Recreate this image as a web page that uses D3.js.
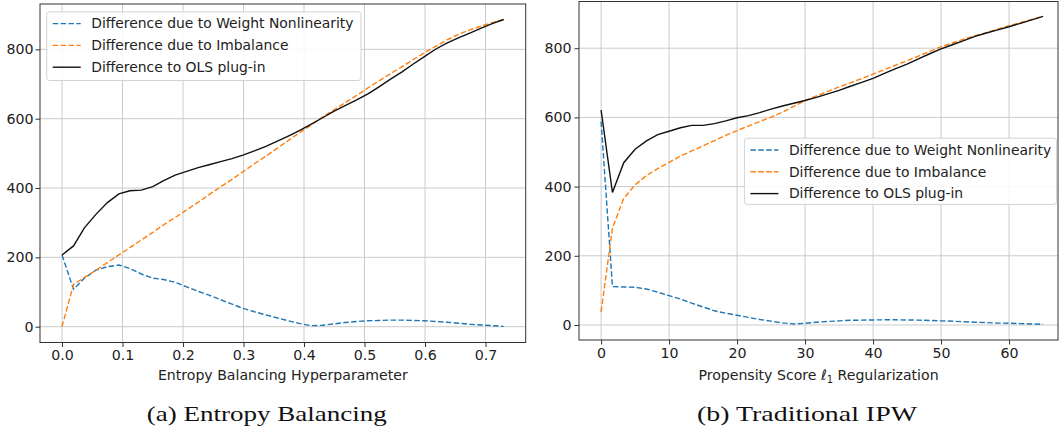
<!DOCTYPE html>
<html lang="en">
<head>
<meta charset="UTF-8">
<title>Entropy balancing vs traditional IPW</title>
<script src="https://cdn.jsdelivr.net/npm/d3@7"></script>
<style>
    body{ margin:0; background:#fff; }
    svg{ display:block; }
    text{ font-family:"DejaVu Sans", sans-serif; fill:#222; }
    .tick text{ font-size:14.2px; }
    .tick line{ stroke:#333; }
    .domain{ display:none; }
    .grid line{ stroke:#cbcbcb; stroke-width:1; }
    .frame{ fill:none; stroke:#333; stroke-width:1; }
    .xlabel{ font-size:14.1px; }
    .caption{ font-family:"Liberation Serif", serif; font-size:22px; fill:#111; }
    .legendBox{ fill:#fff; fill-opacity:0.85; stroke:#d3d3d3; }
    .legend text{ font-size:13.9px; }
</style>
</head>
<body>
<svg id="main" width="1061" height="429"></svg>
<script>
// (a) entropy balancing
const ebX = [0, 0.019, 0.037, 0.056, 0.075, 0.094, 0.112, 0.131, 0.150, 0.168,
    0.187, 0.206, 0.225, 0.243, 0.262, 0.281, 0.299, 0.318, 0.337, 0.356,
    0.374, 0.393, 0.412, 0.430, 0.449, 0.468, 0.487, 0.505, 0.524, 0.543,
    0.562, 0.580, 0.599, 0.618, 0.636, 0.655, 0.674, 0.693, 0.711, 0.730];
const ebWeight = [207, 108, 140, 163, 173, 178, 168, 152, 140, 136,
    128, 115, 102, 91, 78, 65, 53, 43, 34, 25,
    17, 9, 3, 4, 8, 12, 15, 17, 18, 19,
    19, 18, 17, 15, 13, 10, 7, 5, 3, 1];
const ebImbalance = [0, 122, 142, 163, 185, 207, 228, 250, 272, 294,
    315, 337, 359, 381, 403, 425, 447, 470, 492, 515,
    537, 560, 582, 604, 625, 646, 667, 688, 709, 730,
    750, 770, 790, 809, 827, 843, 856, 867, 877, 886];
const ebOls = [207, 233, 285, 324, 358, 383, 392, 394, 404, 421,
    437, 448, 459, 467, 476, 485, 495, 507, 520, 535,
    550, 566, 584, 602, 621, 638, 654, 671, 692, 714,
    735, 757, 779, 801, 818, 833, 847, 861, 874, 886];

// (b) traditional IPW
const ipwX = [0, 1.67, 3.33, 5, 6.67, 8.33, 10, 11.67, 13.33, 15,
    16.67, 18.33, 20, 21.67, 23.33, 25, 26.67, 28.33, 30, 31.67,
    33.33, 35, 36.67, 38.33, 40, 41.67, 43.33, 45, 46.67, 48.33,
    50, 51.67, 53.33, 55, 56.67, 58.33, 60, 61.67, 63.33, 65];
const ipwWeight = [588, 111, 110, 109, 104, 95, 85, 75, 63, 52,
    41, 34, 28, 22, 16, 11, 6, 3, 5, 8,
    10, 12, 13.5, 14, 14.5, 15, 15, 14.5, 14, 13,
    12, 11, 9.5, 8, 7, 5.5, 5, 4, 3, 2];
const ipwImbalance = [38, 280, 366, 405, 432, 452, 470, 488, 503, 518,
    533, 548, 562, 575, 588, 601, 615, 632, 649, 662,
    675, 688, 700, 712, 725, 738, 751, 764, 777, 791,
    804, 815, 826, 836, 845, 855, 865, 874, 883, 892];
const ipwOls = [621, 383, 469, 508, 532, 550, 560, 570, 577, 577,
    582, 590, 599, 605, 614, 624, 633, 641, 649, 658,
    668, 678, 690, 701, 713, 727, 741, 754, 769, 784,
    798, 810, 822, 834, 844, 853, 862, 872, 882, 892];

const yTicks = [0, 200, 400, 600, 800];
const ebXTicks = [0, 0.1, 0.2, 0.3, 0.4, 0.5, 0.6, 0.7];
const ipwXTicks = [0, 10, 20, 30, 40, 50, 60];
const seriesNames = ["Difference due to Weight Nonlinearity", "Difference due to Imbalance", "Difference to OLS plug-in"];

const svg = d3.select("#main");

function drawPanel(cfg){
    const x = d3.scaleLinear().domain(cfg.xDomain).range([cfg.left, cfg.right]);
    const y = d3.scaleLinear().domain(cfg.yDomain).range([cfg.bottom, cfg.top]);
    const g = svg.append("g");

    // grid
    g.append("g").attr("class","grid")
        .selectAll("line").data(cfg.xTicks).join("line")
        .attr("x1", d=>x(d)).attr("x2", d=>x(d))
        .attr("y1", cfg.top).attr("y2", cfg.bottom);
    g.append("g").attr("class","grid")
        .selectAll("line").data(yTicks).join("line")
        .attr("x1", cfg.left).attr("x2", cfg.right)
        .attr("y1", d=>y(d)).attr("y2", d=>y(d));

    // axes
    g.append("g")
        .attr("transform", `translate(0,${cfg.bottom})`)
        .call(d3.axisBottom(x).tickValues(cfg.xTicks).tickFormat(cfg.xFormat).tickSize(4.5).tickPadding(3.3));
    g.append("g")
        .attr("transform", `translate(${cfg.left},0)`)
        .call(d3.axisLeft(y).tickValues(yTicks).tickFormat(d3.format("d")).tickSize(4.5).tickPadding(cfg.yPad));

    // lines
    const series = [
        {v: cfg.weight, color: "#1f77b4", dash: "5.5,2.4"},
        {v: cfg.imbalance, color: "#ff7f0e", dash: "5.5,2.4"},
        {v: cfg.ols, color: "#111", dash: null}
    ];
    const clipId = "clip" + cfg.id;
    g.append("clipPath").attr("id", clipId).append("rect")
        .attr("x", cfg.left).attr("y", cfg.top)
        .attr("width", cfg.right-cfg.left).attr("height", cfg.bottom-cfg.top);
    const line = d3.line().x(d=>x(d[0])).y(d=>y(d[1]));
    g.append("g").attr("clip-path", `url(#${clipId})`)
        .selectAll("path").data(series).join("path")
        .attr("d", s=>line(cfg.xs.map((xv,i)=>[xv, s.v[i]])))
        .attr("fill","none")
        .attr("stroke", s=>s.color)
        .attr("stroke-width", 1.4)
        .attr("stroke-dasharray", s=>s.dash);

    g.append("rect").attr("class","frame")
        .attr("x", cfg.left).attr("y", cfg.top)
        .attr("width", cfg.right-cfg.left).attr("height", cfg.bottom-cfg.top);

    // legend
    const lg = g.append("g").attr("class","legend");
    lg.append("rect").attr("class","legendBox")
        .attr("x", cfg.legend.x).attr("y", cfg.legend.y)
        .attr("width", cfg.legend.w).attr("height", cfg.legend.h)
        .attr("rx", 3);
    seriesNames.forEach((name,i)=>{
        const cy = cfg.legend.y + 11.8 + i*21.8;
        lg.append("line")
            .attr("x1", cfg.legend.x+6).attr("x2", cfg.legend.x+34)
            .attr("y1", cy).attr("y2", cy)
            .attr("stroke", series[i].color).attr("stroke-width", 1.4)
            .attr("stroke-dasharray", series[i].dash);
        lg.append("text")
            .attr("x", cfg.legend.x+44.5).attr("y", cy)
            .attr("dy", "0.35em")
            .text(name);
    });

    // x label
    const lab = g.append("text").attr("class","xlabel")
        .attr("x", (cfg.left+cfg.right)/2).attr("y", 380)
        .attr("text-anchor","middle");
    cfg.xLabel(lab);

    // caption
    svg.append("text").attr("class","caption")
        .attr("x", cfg.caption.x).attr("y", 421)
        .attr("textLength", cfg.caption.w).attr("lengthAdjust","spacingAndGlyphs")
        .text(cfg.caption.text);
}

drawPanel({
    id: "a",
    left: 40, right: 525.7, top: 4, bottom: 342.5,
    xDomain: [-0.0364, 0.7664], yDomain: [-45.6, 930.8],
    xTicks: ebXTicks, xFormat: d3.format(".1f"), yPad: 2,
    xs: ebX, weight: ebWeight, imbalance: ebImbalance, ols: ebOls,
    legend: {x: 46.7, y: 11.8, w: 314.3, h: 68.7},
    xLabel: t=>t.text("Entropy Balancing Hyperparameter"),
    caption: {x: 146.7, w: 240, text: "(a) Entropy Balancing"}
});

drawPanel({
    id: "b",
    left: 579, right: 1058, top: 1.5, bottom: 340,
    xDomain: [-3.25, 67.2], yDomain: [-43.4, 935],
    xTicks: ipwXTicks, xFormat: d3.format("d"), yPad: 3,
    xs: ipwX, weight: ipwWeight, imbalance: ipwImbalance, ols: ipwOls,
    legend: {x: 744.4, y: 138.2, w: 312.2, h: 66.2},
    xLabel: t=>{
        t.append("tspan").text("Propensity Score ");
        t.append("tspan").attr("font-style","italic").text("ℓ");
        t.append("tspan").attr("font-size","10px").attr("dy","3").text("1");
        t.append("tspan").attr("dy","-3").text(" Regularization");
    },
    caption: {x: 697, w: 220, text: "(b) Traditional IPW"}
});
</script>
</body>
</html>
